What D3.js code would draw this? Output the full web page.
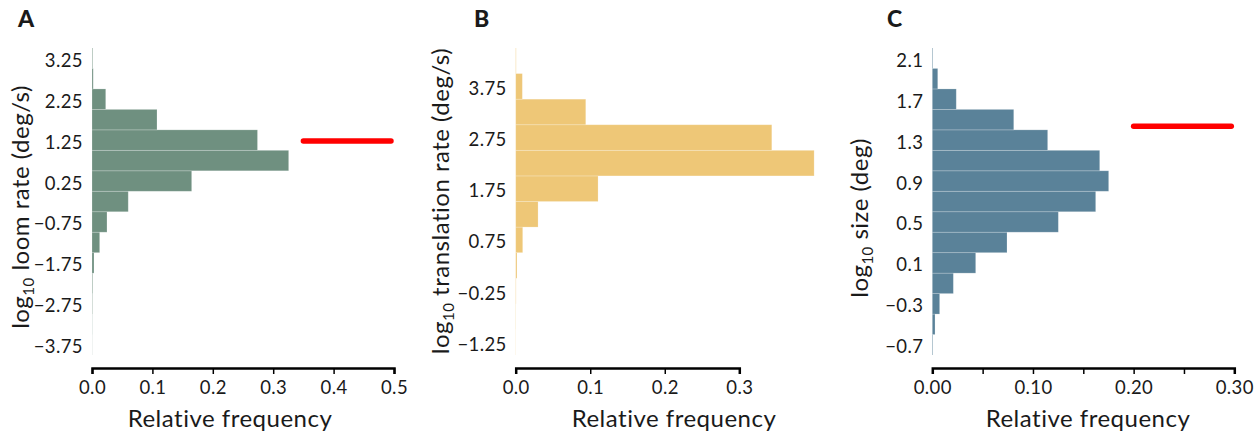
<!DOCTYPE html>
<html>
<head>
<meta charset="utf-8">
<script src="https://cdn.jsdelivr.net/npm/d3@7"></script>
<style>
  body { margin: 0; background: #fff; }
  text { font-family: Lato, "Open Sans", sans-serif; fill: #1a1a1a; }
</style>
</head>
<body>
<svg width="1258" height="439"></svg>
<script>
// bin edges (low -> high) and relative frequencies for each panel
var loomEdges = [-3.95, -3.45, -2.95, -2.45, -1.95, -1.45, -0.95, -0.45, 0.05, 0.55, 1.05, 1.55, 2.05, 2.55, 3.05, 3.55];
var loomFreq = [0.0002, 0.0003, 0.0006, 0.001, 0.0033, 0.0127, 0.0248, 0.060, 0.165, 0.3256, 0.274, 0.1076, 0.0227, 0.002, 0.001];
var loomTicks = [3.25, 2.25, 1.25, 0.25, -0.75, -1.75, -2.75, -3.75];
var loomXTicks = [0, 0.1, 0.2, 0.3, 0.4, 0.5];
var loomRef = { y: 1.279, x: [0.35, 0.495] };

var transEdges = [-1.46, -0.96, -0.46, 0.04, 0.54, 1.04, 1.54, 2.04, 2.54, 3.04, 3.54, 4.04, 4.54];
var transFreq = [0.0002, 0.0003, 0.0005, 0.0017, 0.0094, 0.030, 0.1105, 0.4004, 0.3436, 0.094, 0.0089, 0.0006];
var transTicks = [3.75, 2.75, 1.75, 0.75, -0.25, -1.25];
var transXTicks = [0, 0.1, 0.2, 0.3];

var sizeEdges = [-0.78, -0.58, -0.38, -0.18, 0.02, 0.22, 0.42, 0.62, 0.82, 1.02, 1.22, 1.42, 1.62, 1.82, 2.02, 2.22];
var sizeFreq = [0.0006, 0.0027, 0.0073, 0.0209, 0.0431, 0.0742, 0.1252, 0.1623, 0.1752, 0.1663, 0.1146, 0.0809, 0.0238, 0.0054, 0.0006];
var sizeTicks = [2.1, 1.7, 1.3, 0.9, 0.5, 0.1, -0.3, -0.7];
var sizeXTicks = [0, 0.05, 0.1, 0.15, 0.2, 0.25, 0.3];
var sizeRef = { y: 1.455, x: [0.2, 0.297] };

var svg = d3.select('svg');
var plotTop = 48, plotBottom = 355, axisY = 368;

function fmtMinus(s) { return s.replace('-', '\u2212'); }

function panel(opt) {
  var g = svg.append('g');
  var x = d3.scaleLinear().domain(opt.xDomain).range(opt.xRange);
  var y = d3.scaleLinear()
    .domain([opt.edges[0], opt.edges[opt.edges.length - 1]])
    .range([plotBottom, plotTop]);

  var bins = opt.freq.map(function(f, i) {
    return { lo: opt.edges[i], hi: opt.edges[i + 1], f: f };
  });

  g.append('g')
    .selectAll('rect')
    .data(bins)
    .enter()
    .append('rect')
    .attr('x', x(0))
    .attr('y', function(d) { return y(d.hi); })
    .attr('width', function(d) { return x(d.f) - x(0); })
    .attr('height', function(d) { return y(d.lo) - y(d.hi); })
    .attr('fill', opt.color)
    .attr('stroke', '#fff')
    .attr('stroke-opacity', 0.25)
    .attr('stroke-width', 0.8);

  if (opt.ref) {
    g.append('line')
      .attr('x1', x(opt.ref.x[0]))
      .attr('x2', x(opt.ref.x[1]))
      .attr('y1', y(opt.ref.y))
      .attr('y2', y(opt.ref.y))
      .attr('stroke', '#ff0000')
      .attr('stroke-width', 5.5)
      .attr('stroke-linecap', 'round');
  }

  // x axis, trimmed to the outer ticks
  var xa = g.append('g')
    .attr('transform', 'translate(0,' + axisY + ')')
    .call(d3.axisBottom(x)
      .tickValues(opt.xTicks)
      .tickSizeOuter(0)
      .tickSize(6)
      .tickPadding(7)
      .tickFormat(opt.xFormat));
  xa.select('.domain').attr('stroke', '#000').attr('stroke-width', 2.5);
  xa.selectAll('.tick line').attr('stroke', '#000').attr('stroke-width', 1.5);
  xa.selectAll('.tick text')
    .style('font-size', '18.5px')
    .style('letter-spacing', '0.4px')
    .attr('fill', '#1a1a1a');

  // y axis: labels only
  var ya = g.append('g')
    .attr('transform', 'translate(' + x(0) + ',0)')
    .call(d3.axisLeft(y)
      .tickValues(opt.yTicks)
      .tickSize(0)
      .tickPadding(9)
      .tickFormat(function(d) { return fmtMinus(d3.format(opt.yFmt)(d)); }));
  ya.select('.domain').remove();
  ya.selectAll('.tick text')
    .style('font-size', '18.5px')
    .style('letter-spacing', '0.4px')
    .attr('fill', '#1a1a1a');

  g.append('text')
    .attr('x', opt.xLabelX)
    .attr('y', 427)
    .attr('text-anchor', 'middle')
    .style('font-size', '24px')
    .style('letter-spacing', '0.5px')
    .text('Relative frequency');

  var yl = g.append('text')
    .attr('transform', 'translate(' + opt.yLabelX + ',' + opt.yLabelY + ') rotate(-90)')
    .attr('text-anchor', 'middle')
    .style('font-size', '24px')
    .style('letter-spacing', '0.5px');
  yl.append('tspan').text('log');
  yl.append('tspan').attr('dy', 5).style('font-size', '15px').text('10');
  yl.append('tspan').attr('dy', -5).text(' ' + opt.yLabel);

  g.append('text')
    .attr('x', opt.letterX)
    .attr('y', 27)
    .style('font-size', '23px')
    .style('font-weight', 900)
    .attr('fill', '#000')
    .text(opt.letter);
}

panel({
  letter: 'A', letterX: 18,
  edges: loomEdges, freq: loomFreq, color: '#6f9080',
  xDomain: [0, 0.5], xRange: [92, 394], xTicks: loomXTicks,
  xFormat: d3.format('.1f'),
  yTicks: loomTicks, yFmt: '.2f',
  ref: loomRef,
  xLabelX: 230, yLabelX: 29, yLabelY: 207,
  yLabel: 'loom rate (deg/s)'
});

panel({
  letter: 'B', letterX: 474,
  edges: transEdges, freq: transFreq, color: '#eec777',
  xDomain: [0, 0.3], xRange: [515.7, 739.3], xTicks: transXTicks,
  xFormat: d3.format('.1f'),
  yTicks: transTicks, yFmt: '.2f',
  ref: null,
  xLabelX: 674, yLabelX: 449, yLabelY: 201,
  yLabel: 'translation rate (deg/s)'
});

panel({
  letter: 'C', letterX: 887,
  edges: sizeEdges, freq: sizeFreq, color: '#5a8299',
  xDomain: [0, 0.3], xRange: [932.3, 1234.3], xTicks: sizeXTicks,
  xFormat: function(d) { return Math.round(d * 100) % 10 === 0 ? d3.format('.2f')(d) : ''; },
  yTicks: sizeTicks, yFmt: '.1f',
  ref: sizeRef,
  xLabelX: 1088, yLabelX: 868, yLabelY: 218,
  yLabel: 'size (deg)'
});
</script>
</body>
</html>
